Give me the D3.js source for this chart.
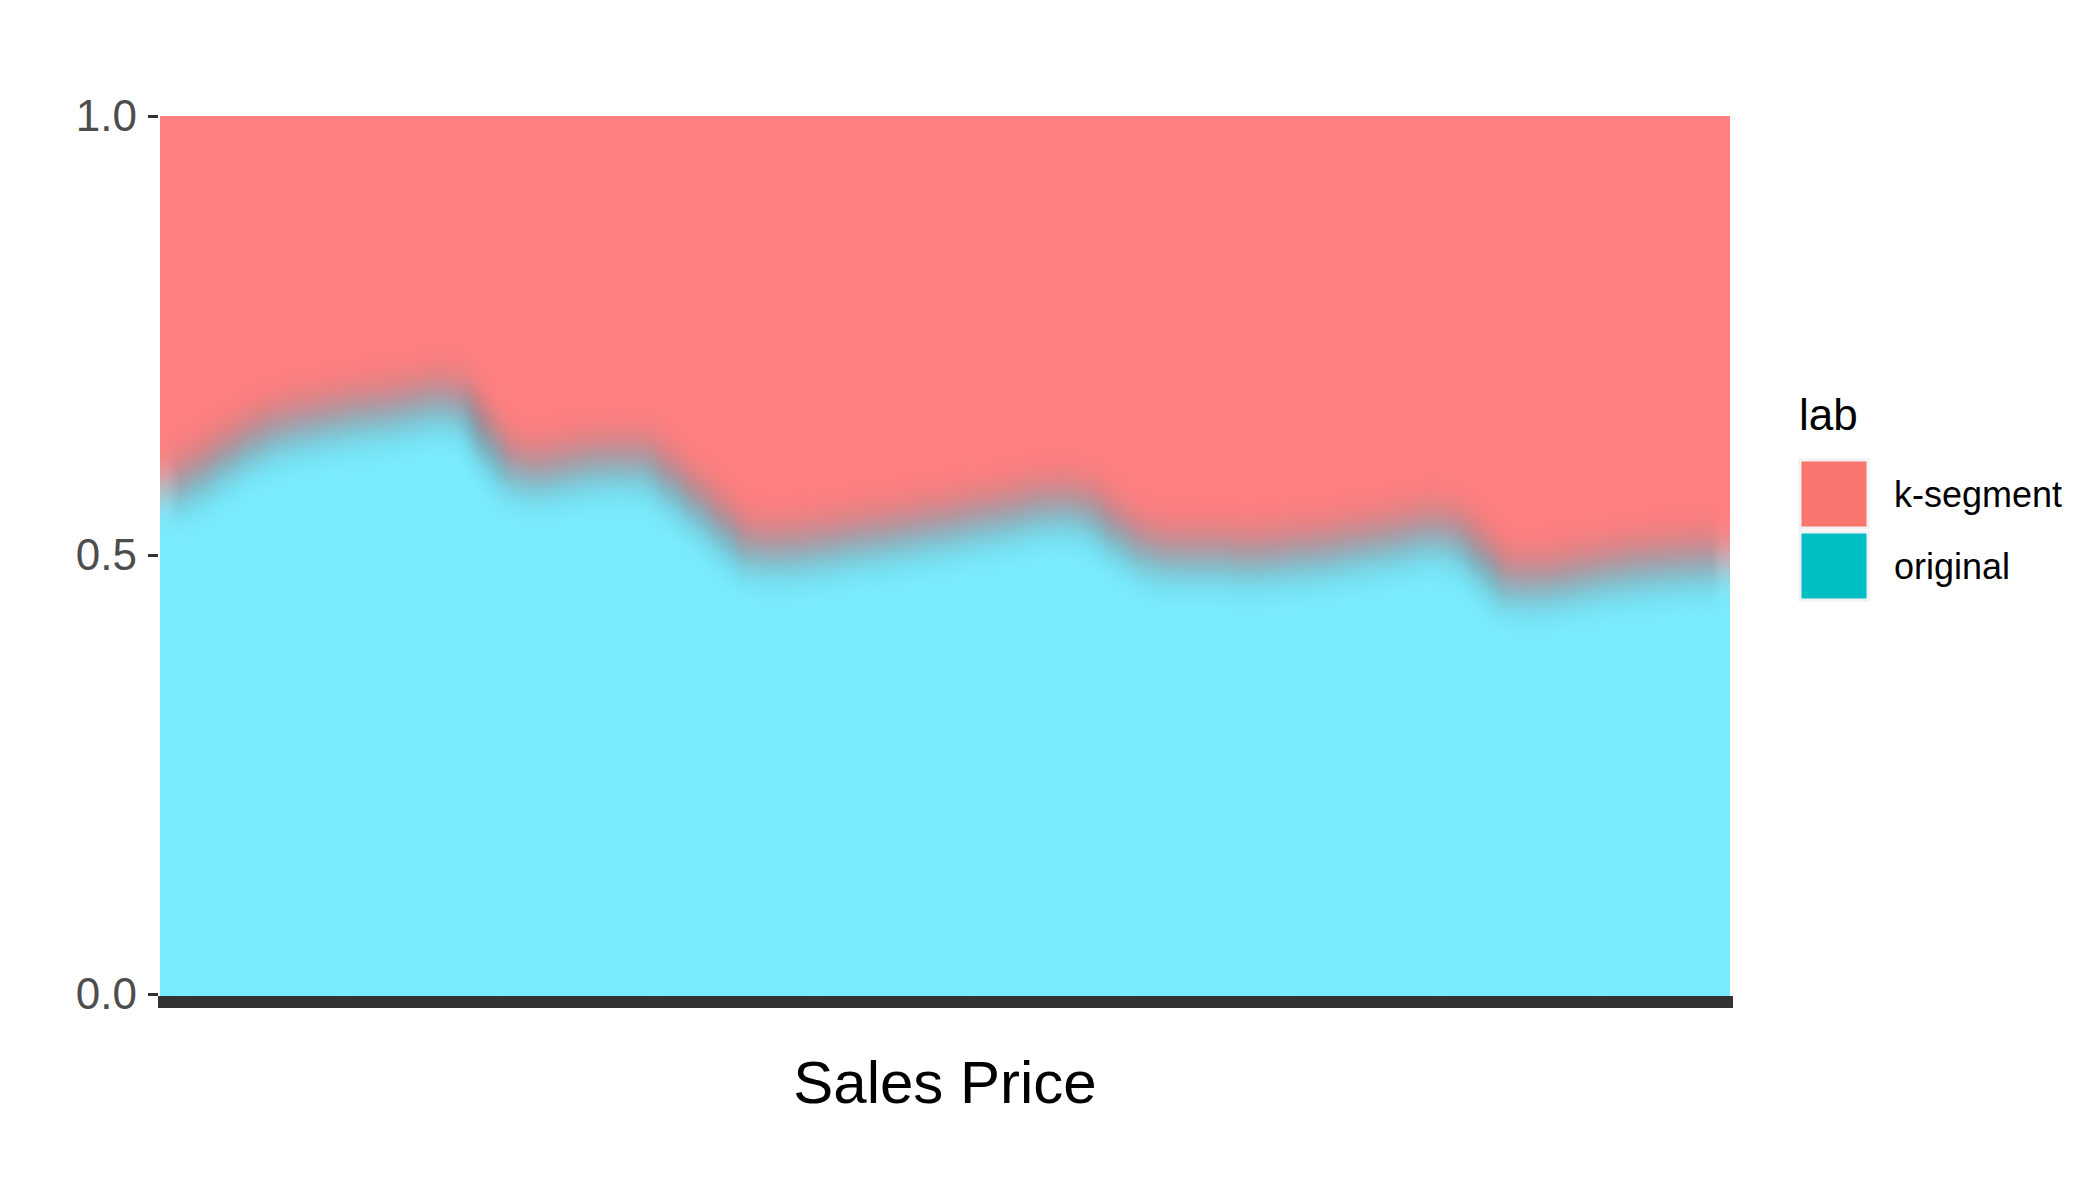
<!DOCTYPE html>
<html>
<head>
<meta charset="utf-8">
<script src="https://cdn.jsdelivr.net/npm/d3@7"></script>
<style>
  html, body { margin: 0; padding: 0; background: #ffffff; }
  svg { display: block; }
  text { font-family: "Liberation Sans", Arial, Helvetica, sans-serif; }
</style>
</head>
<body>
<svg id="chart" width="2094" height="1182"></svg>
<script>
// ---- data ----
const priceBins = ["1","2","3","4","5","6","7","8","9","10",
  "11","12","13","14","15","16","17","18","19","20",
  "21","22","23","24","25","26","27","28","29","30",
  "31","32","33","34","35","36","37","38","39","40",
  "41","42","43","44","45","46","47","48","49","50",
  "51","52","53","54","55","56","57","58","59","60"];

const originalShare = [0.577,0.592,0.611,0.628,0.641,0.648,0.654,0.660,0.663,0.668,
  0.674,0.670,0.630,0.599,0.594,0.599,0.604,0.606,0.604,0.583,
  0.558,0.532,0.508,0.505,0.507,0.511,0.516,0.520,0.525,0.530,
  0.535,0.541,0.546,0.553,0.555,0.549,0.527,0.508,0.500,0.499,
  0.499,0.496,0.498,0.501,0.504,0.509,0.514,0.519,0.525,0.520,
  0.496,0.470,0.468,0.471,0.477,0.482,0.486,0.489,0.491,0.492];

const kSegmentShare = [0.423,0.408,0.389,0.372,0.359,0.352,0.346,0.340,0.337,0.332,
  0.326,0.330,0.370,0.401,0.406,0.401,0.396,0.394,0.396,0.417,
  0.442,0.468,0.492,0.495,0.493,0.489,0.484,0.480,0.475,0.470,
  0.465,0.459,0.454,0.447,0.445,0.451,0.473,0.492,0.500,0.501,
  0.501,0.504,0.502,0.499,0.496,0.491,0.486,0.481,0.475,0.480,
  0.504,0.530,0.532,0.529,0.523,0.518,0.514,0.511,0.509,0.508];

const seriesKeys = ["original", "k-segment"];
const legendLabels = ["k-segment", "original"];
const yTicks = [0, 0.5, 1.0];
const xTitle = "Sales Price";
const legendTitle = "lab";

// ---- styles ----
const fillColor = { "original": "#78ecfd", "k-segment": "#fe7f7f" };
const keyColor = { "original": "#00bfc4", "k-segment": "#f8766d" };

const svg = d3.select("#chart");
const L = 160, R = 1730, T = 116, B = 994;

const rows = priceBins.map((b, i) => ({ bin: b, "original": originalShare[i], "k-segment": kSegmentShare[i] }));
const stacked = d3.stack().keys(seriesKeys).offset(d3.stackOffsetExpand)(rows);

const x = d3.scaleBand().domain(priceBins).range([L, R]).padding(0);
const y = d3.scaleLinear().domain([0, 1]).range([B, T]);

const defs = svg.append("defs");
defs.append("clipPath").attr("id", "plotClip")
  .append("rect").attr("x", L).attr("y", T).attr("width", R - L).attr("height", B - T + 4);
const f = defs.append("filter").attr("id", "soft")
  .attr("filterUnits", "userSpaceOnUse")
  .attr("x", L - 100).attr("y", T - 150).attr("width", R - L + 200).attr("height", B - T + 300)
  .attr("color-interpolation-filters", "sRGB");
f.append("feGaussianBlur").attr("stdDeviation", "4 22");

const outer = svg.append("g").attr("clip-path", "url(#plotClip)");
const inner = outer.append("g").attr("filter", "url(#soft)");

const n = priceBins.length;
stacked.forEach(layer => {
  inner.append("g").selectAll("rect").data(layer).join("rect")
    .attr("x", (d, i) => x(d.data.bin) - (i === 0 ? 60 : 0))
    .attr("width", (d, i) => x.bandwidth() + 0.6 + (i === 0 ? 60 : 0) + (i === n - 1 ? 60 : 0))
    .attr("y", d => y(d[1]) - (layer.key === "k-segment" ? 110 : 0))
    .attr("height", d => y(d[0]) - y(d[1]) + 110)
    .attr("fill", fillColor[layer.key]);
});
// soft darker seam where the two shares meet
inner.append("path")
  .datum(stacked[0])
  .attr("d", d3.line().curve(d3.curveMonotoneX)
    .x(d => x(d.data.bin) + x.bandwidth() / 2)
    .y(d => y(d[1])))
  .attr("fill", "none").attr("stroke", "#5a8292").attr("stroke-width", 22).attr("opacity", 0.75);

// y axis
const yAxis = svg.append("g").attr("transform", `translate(${L - 2},0)`)
  .call(d3.axisLeft(y).tickValues(yTicks).tickFormat(d3.format(".1f")).tickSize(10).tickPadding(11));
yAxis.select(".domain").remove();
yAxis.selectAll(".tick line").attr("stroke", "#333333").attr("stroke-width", 3);
yAxis.selectAll(".tick text").attr("fill", "#4d4d4d").attr("font-size", 44)
  .attr("font-family", "Liberation Sans, Arial, sans-serif");

// x axis (thick baseline, no ticks)
const xAxis = svg.append("g").attr("transform", `translate(0,${B + 8})`)
  .call(d3.axisBottom(x).tickValues([]).tickSizeOuter(0));
xAxis.select(".domain").attr("stroke", "#333333").attr("stroke-width", 12)
  .attr("d", `M${L - 2},0H${R + 3}`);

svg.append("text").attr("x", (L + R) / 2).attr("y", 1103)
  .attr("text-anchor", "middle").attr("font-size", 60).attr("fill", "#000")
  .text(xTitle);

// legend
const lg = svg.append("g");
lg.append("text").attr("x", 1799).attr("y", 430).attr("font-size", 44).attr("fill", "#000").text(legendTitle);
legendLabels.forEach((k, i) => {
  const yy = 460 + i * 72;
  lg.append("rect").attr("x", 1800).attr("y", yy).attr("width", 68).attr("height", 68)
    .attr("fill", keyColor[k]).attr("stroke", "#f2f2f2").attr("stroke-width", 3);
  lg.append("text").attr("x", 1894).attr("y", yy + 47).attr("font-size", 36).attr("fill", "#000").text(k);
});
</script>
</body>
</html>
